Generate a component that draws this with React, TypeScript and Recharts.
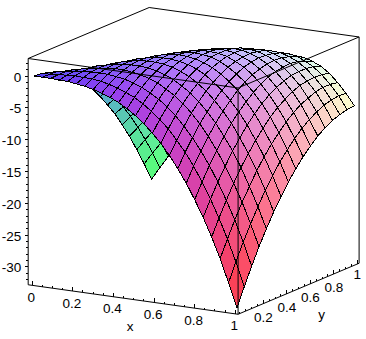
import { Scatter, ScatterChart, XAxis, YAxis } from 'recharts';

const WIDTH = 366;
const HEIGHT = 339;

// mesh cells along each axis
const STEPS_X = 24;
const STEPS_Y = 16;

// z values, one row per y step (y = 0 first), left to right is x = 0..1
const row00 = [0, 0, 0, -0.1, -0.1, -0.3, -0.5, -0.8, -1.2, -1.7, -2.3, -3.1, -4, -5.1, -6.4, -7.8, -9.5, -11.4, -13.5, -15.9, -18.5, -21.4, -24.6, -28.2, -32];
const row01 = [-0.1, 0, 0.1, 0.2, 0.3, 0.2, 0.2, 0, -0.3, -0.7, -1.2, -1.8, -2.6, -3.6, -4.7, -6, -7.6, -9.3, -11.3, -13.6, -16.1, -18.9, -22, -25.4, -29.1];
const row02 = [-0.4, -0.1, 0.1, 0.3, 0.5, 0.6, 0.6, 0.6, 0.4, 0.2, -0.2, -0.7, -1.4, -2.2, -3.2, -4.4, -5.9, -7.5, -9.4, -11.5, -13.9, -16.6, -19.5, -22.8, -26.4];
const row03 = [-0.8, -0.5, -0.1, 0.2, 0.5, 0.7, 0.9, 1, 1, 0.8, 0.6, 0.2, -0.3, -1.1, -1.9, -3, -4.3, -5.8, -7.6, -9.6, -11.9, -14.4, -17.2, -20.4, -23.8];
const row04 = [-1.5, -1, -0.5, -0.1, 0.4, 0.7, 1, 1.2, 1.3, 1.3, 1.2, 0.9, 0.5, -0.1, -0.9, -1.8, -3, -4.4, -6, -7.9, -10, -12.4, -15.2, -18.2, -21.5];
const row05 = [-2.3, -1.7, -1.1, -0.5, 0, 0.5, 0.9, 1.2, 1.5, 1.6, 1.6, 1.5, 1.2, 0.7, 0.1, -0.8, -1.8, -3.1, -4.6, -6.3, -8.4, -10.7, -13.2, -16.1, -19.3];
const row06 = [-3.4, -2.6, -1.9, -1.2, -0.5, 0.1, 0.6, 1.1, 1.4, 1.7, 1.8, 1.8, 1.6, 1.3, 0.8, 0.1, -0.9, -2, -3.4, -5, -6.9, -9.1, -11.5, -14.3, -17.4];
const row07 = [-4.6, -3.7, -2.9, -2, -1.2, -0.5, 0.2, 0.7, 1.2, 1.6, 1.9, 2, 1.9, 1.7, 1.3, 0.7, -0.1, -1.1, -2.3, -3.9, -5.6, -7.7, -10, -12.6, -15.6];
const row08 = [-6, -5, -4, -3.1, -2.2, -1.3, -0.5, 0.2, 0.8, 1.3, 1.7, 1.9, 2, 1.9, 1.7, 1.2, 0.5, -0.4, -1.5, -2.9, -4.5, -6.4, -8.7, -11.2, -14];
const row09 = [-7.6, -6.5, -5.4, -4.3, -3.2, -2.3, -1.3, -0.5, 0.2, 0.8, 1.3, 1.7, 1.9, 1.9, 1.8, 1.5, 0.9, 0.2, -0.8, -2.1, -3.6, -5.4, -7.5, -9.9, -12.6];
const row10 = [-9.4, -8.1, -6.9, -5.7, -4.5, -3.4, -2.4, -1.4, -0.6, 0.2, 0.8, 1.3, 1.6, 1.8, 1.8, 1.6, 1.1, 0.5, -0.4, -1.5, -2.9, -4.6, -6.5, -8.8, -11.4];
const row11 = [-11.3, -10, -8.6, -7.3, -6, -4.8, -3.6, -2.5, -1.5, -0.7, 0.1, 0.7, 1.2, 1.4, 1.6, 1.5, 1.2, 0.7, -0.1, -1.1, -2.4, -3.9, -5.7, -7.9, -10.3];
const row12 = [-13.5, -12, -10.5, -9.1, -7.7, -6.3, -5, -3.8, -2.7, -1.7, -0.8, -0.1, 0.5, 0.9, 1.2, 1.2, 1, 0.6, 0, -0.9, -2, -3.4, -5.2, -7.2, -9.5];
const row13 = [-15.8, -14.2, -12.6, -11, -9.5, -8, -6.6, -5.3, -4, -2.9, -1.9, -1, -0.3, 0.2, 0.6, 0.7, 0.7, 0.4, -0.1, -0.8, -1.9, -3.2, -4.7, -6.6, -8.8];
const row14 = [-18.4, -16.6, -14.9, -13.2, -11.5, -9.9, -8.4, -6.9, -5.6, -4.3, -3.2, -2.2, -1.4, -0.7, -0.2, 0.1, 0.1, 0, -0.4, -1, -1.9, -3.1, -4.5, -6.3, -8.4];
const row15 = [-21.1, -19.2, -17.4, -15.5, -13.7, -12, -10.3, -8.8, -7.3, -5.9, -4.7, -3.6, -2.6, -1.8, -1.2, -0.8, -0.6, -0.6, -0.8, -1.4, -2.1, -3.2, -4.5, -6.1, -8.1];
const row16 = [-24, -22, -20, -18.1, -16.2, -14.3, -12.5, -10.8, -9.2, -7.7, -6.3, -5.1, -4, -3.1, -2.4, -1.8, -1.5, -1.4, -1.5, -1.9, -2.5, -3.4, -4.7, -6.2, -8];
const zRows = [row00, row01, row02, row03, row04, row05, row06, row07, row08, row09, row10, row11, row12, row13, row14, row15, row16];

// axis ticks
const xLabels = [0, 0.2, 0.4, 0.6, 0.8, 1];
const yLabels = [0.2, 0.4, 0.6, 0.8, 1];
const xyMinor = [0, 0.05, 0.1, 0.15, 0.2, 0.25, 0.3, 0.35, 0.4, 0.45, 0.5, 0.55, 0.6, 0.65, 0.7, 0.75, 0.8, 0.85, 0.9, 0.95, 1];
const zLabels = [0, -5, -10, -15, -20, -25, -30];
const zMinor = [2, 1, 0, -1, -2, -3, -4, -5, -6, -7, -8, -9, -10, -11, -12, -13, -14, -15, -16, -17, -18, -19, -20, -21, -22, -23, -24, -25, -26, -27, -28, -29, -30, -31, -32];

// extents of the box around the surface
const BOX = { x0: -0.02, x1: 1.014, y0: -0.015, y1: 1.015, zTop: 2.78, zBot: -32.8 };

// fixed orthographic view of the plot
const project = (x: number, y: number, z: number) => ({
  sx: 34 + 203 * x + 117.5 * y,
  sy: 76 + 28.5 * x - 49.5 * y - 6.36 * z,
});

const shadeOf = (x: number, y: number, z: number) => {
  const r = Math.round(85 + 170 * x);
  const g = Math.round(60 + 195 * y);
  const b = Math.round(70 + 185 * ((z + 32) / 34));
  return `rgb(${r},${g},${b})`;
};

// back to front: far y rows first, then growing x
const cells: any[] = [];
for (let j = STEPS_Y - 1; j >= 0; j--) {
  for (let i = 0; i < STEPS_X; i++) {
    const corners = [[i, j], [i + 1, j], [i + 1, j + 1], [i, j + 1]].map(([a, b]) =>
      project(a / STEPS_X, b / STEPS_Y, zRows[b][a]),
    );
    const zMid = (zRows[j][i] + zRows[j][i + 1] + zRows[j + 1][i] + zRows[j + 1][i + 1]) / 4;
    const xMid = (i + 0.5) / STEPS_X;
    const yMid = (j + 0.5) / STEPS_Y;
    cells.push({ ...project(xMid, yMid, zMid), corners, fill: shadeOf(xMid, yMid, zMid) });
  }
}

const CellShape = (props: any) => {
  const { cx, cy, payload } = props;
  const pts = payload.corners
    .map((c: any) => `${cx + c.sx - payload.sx},${cy + c.sy - payload.sy}`)
    .join(' ');
  return <polygon points={pts} fill={payload.fill} stroke="#000" strokeWidth={1} shapeRendering="crispEdges" />;
};

const TickShape = (props: any) => {
  const { cx, cy, payload } = props;
  return (
    <line x1={cx} y1={cy} x2={cx + payload.dx} y2={cy + payload.dy} stroke="#000" strokeWidth={1} shapeRendering="crispEdges" />
  );
};

const LabelShape = (props: any) => {
  const { cx, cy, payload } = props;
  return (
    <text x={cx + payload.dx} y={cy + payload.dy} textAnchor={payload.anchor} fontFamily="Liberation Sans" fontSize={13.5} fill="#000">
      {payload.text}
    </text>
  );
};

const Nothing = () => null;

const edge = (a: number[], b: number[]) => [project(a[0], a[1], a[2]), project(b[0], b[1], b[2])];
const { x0, x1, y0, y1, zTop, zBot } = BOX;
const boxEdges = [
  edge([x0, y0, zTop], [x0, y1, zTop]),
  edge([x0, y1, zTop], [x1, y1, zTop]),
  edge([x0, y0, zTop], [x1, y0, zTop]),
  edge([x1, y0, zTop], [x1, y1, zTop]),
  edge([x0, y0, zTop], [x0, y0, zBot]),
  edge([x1, y0, zTop], [x1, y0, zBot]),
  edge([x1, y1, zTop], [x1, y1, zBot]),
  edge([x0, y0, zBot], [x1, y0, zBot]),
  edge([x1, y0, zBot], [x1, y1, zBot]),
];

const ticks = [
  ...xyMinor.map((v) => ({ ...project(v, y0, zBot), dx: 0, dy: xLabels.includes(v) ? -4 : -2 })),
  ...xyMinor.map((v) => ({ ...project(x1, v, zBot), dx: 0, dy: yLabels.includes(v) ? -4 : -2 })),
  ...zMinor.map((v) => ({ ...project(x0, y0, v), dx: zLabels.includes(v) ? -3 : -2, dy: 0 })),
];

const labels = [
  ...xLabels.map((v) => ({ ...project(v, y0, zBot), text: String(v), anchor: 'middle', dx: -1, dy: 16.5 })),
  ...yLabels.map((v) => ({ ...project(x1, v, zBot), text: String(v), anchor: 'middle', dx: 0, dy: v === 1 ? 15 : 18 })),
  ...zLabels.map((v) => ({ ...project(x0, y0, v), text: String(v), anchor: 'end', dx: -7, dy: 5.5 })),
  { ...project(0.5, y0, zBot), text: 'x', anchor: 'middle', dx: -3.7, dy: 31 },
  { ...project(x1, 0.65, zBot), text: 'y', anchor: 'middle', dx: 5.3, dy: 37.7 },
];

export default function App() {
  return (
    <div style={{ width: WIDTH, height: HEIGHT, background: '#fff' }}>
      <style>{'body { margin: 0; }'}</style>
      <ScatterChart width={WIDTH} height={HEIGHT} margin={{ top: 0, right: 0, bottom: 0, left: 0 }}>
        <XAxis type="number" dataKey="sx" domain={[0, WIDTH]} hide allowDataOverflow />
        <YAxis type="number" dataKey="sy" domain={[0, HEIGHT]} reversed hide allowDataOverflow />
        <Scatter data={cells} shape={CellShape} isAnimationActive={false} />
        {boxEdges.map((pts, i) => (
          <Scatter key={i} data={pts} shape={Nothing} line={{ stroke: '#000', strokeWidth: 1 }} isAnimationActive={false} />
        ))}
        <Scatter data={ticks} shape={TickShape} isAnimationActive={false} />
        <Scatter data={labels} shape={LabelShape} isAnimationActive={false} />
      </ScatterChart>
    </div>
  );
}
